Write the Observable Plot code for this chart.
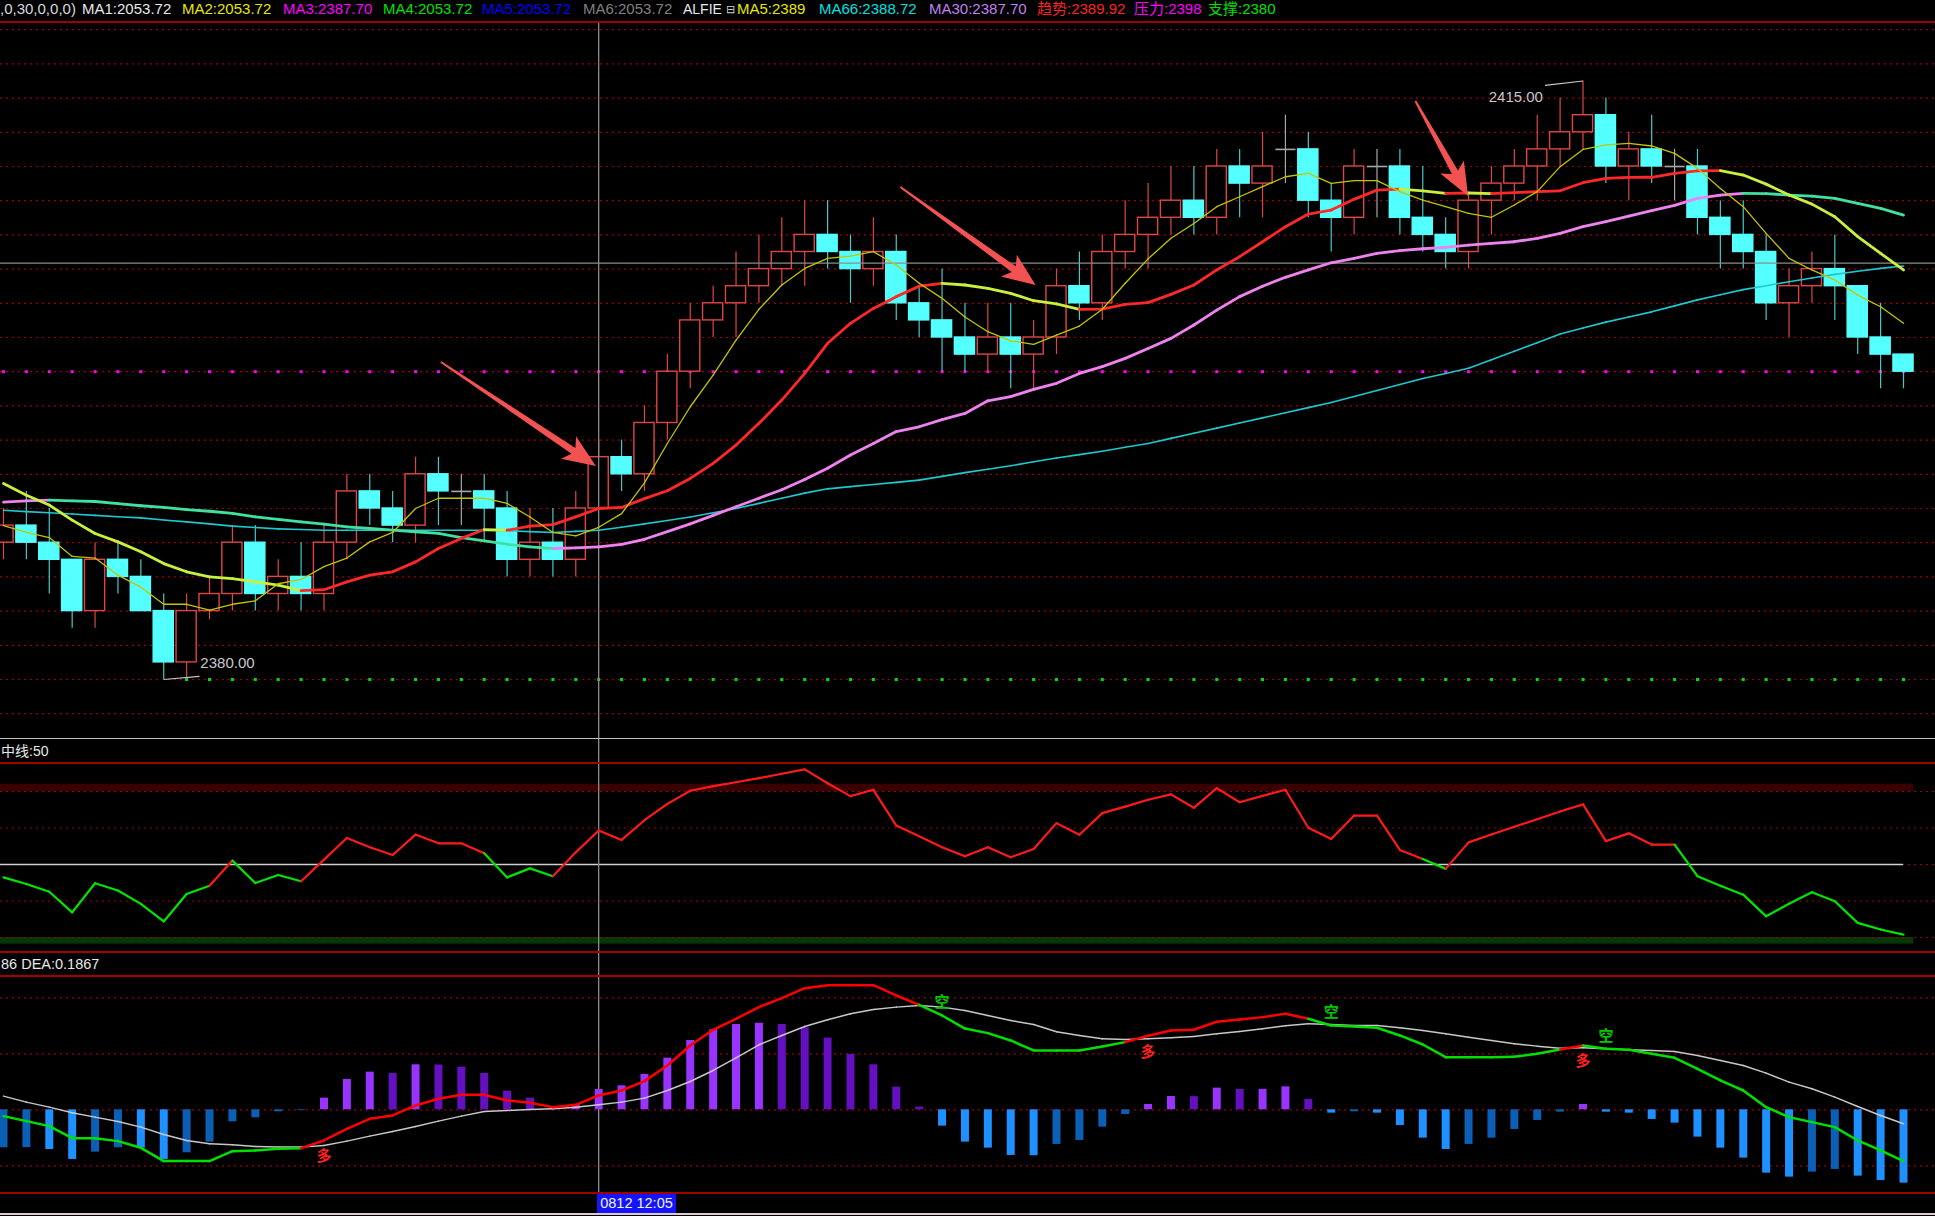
<!DOCTYPE html>
<html><head><meta charset="utf-8">
<script src="https://cdn.jsdelivr.net/npm/d3@7"></script>
<script src="https://cdn.jsdelivr.net/npm/@observablehq/plot@0.6"></script>
<style>
html,body{margin:0;padding:0;background:#000;}
#root{position:relative;width:1935px;height:1216px;overflow:hidden;background:#000;font-family:"Liberation Sans",Arial,"Noto Sans CJK SC",sans-serif;}
.abs{position:absolute;left:0;}
.hl{position:absolute;left:0;width:1935px;}
.tx{position:absolute;white-space:nowrap;font-size:15px;line-height:18px;}
svg{display:block;}
</style></head><body><div id="root"></div>
<script>
// ---------------- data ----------------
const opens = [2388,2389,2388,2387,2384,2387,2386,2384,2381,2384,
 2385,2388,2385,2386,2385,2388,2391,2390,2389,2392,
 2391,2391,2390,2387,2388,2387,2390,2393,2392,2395,
 2398,2401,2402,2403,2404,2405,2406,2405,2404,2405,
 2402,2401,2400,2399,2400,2399,2400,2403,2402,2405,
 2406,2407,2408,2407,2410,2409,2411,2411,2408,2407,
 2410,2410,2407,2406,2405,2408,2409,2410,2411,2412,
 2413,2410,2411,2410,2410,2407,2406,2405,2402,2403,
 2404,2403,2400,2399];
const closes = [2389,2388,2387,2384,2387,2386,2384,2381,2384,2385,
 2388,2385,2386,2385,2388,2391,2390,2389,2392,2391,
 2391,2390,2387,2388,2387,2390,2393,2392,2395,2398,
 2401,2402,2403,2404,2405,2406,2405,2404,2405,2402,
 2401,2400,2399,2400,2399,2400,2403,2402,2405,2406,
 2407,2408,2407,2410,2409,2410,2411,2408,2407,2410,
 2410,2407,2406,2405,2408,2409,2410,2411,2412,2413,
 2410,2411,2410,2410,2407,2406,2405,2402,2403,2404,
 2403,2400,2399,2398];
const highs = [2390,2391,2390,2387,2388,2388,2387,2385,2385,2386,
 2389,2389,2387,2388,2389,2392,2392,2391,2393,2393,
 2392,2392,2391,2390,2390,2391,2394,2394,2396,2399,
 2402,2403,2405,2406,2407,2408,2408,2406,2407,2406,
 2403,2404,2402,2402,2402,2401,2404,2405,2406,2408,
 2409,2410,2410,2411,2411,2412,2413,2412,2409,2411,
 2411,2411,2410,2407,2408.5,2410,2411,2413,2414,2415,
 2414,2412,2413,2411,2411,2408,2408,2406,2404,2405,
 2406,2403,2402,2399];
const lows = [2387,2387,2385,2383,2383,2385,2384,2380,2380,2383.5,
 2384,2384,2384,2384,2384,2387,2389,2388,2388,2389,
 2389,2388,2386,2386,2386,2386,2390,2391,2391,2394,
 2397,2400,2400,2402,2403,2403,2404,2402,2403,2401,
 2400,2398,2398,2398,2397,2397,2399,2401,2401,2404,
 2404,2406,2406,2406,2407,2407,2409,2407,2405,2406,
 2407,2406,2405,2404,2404,2406,2408,2408,2410,2411,
 2409,2408,2409,2408,2406,2404,2404,2401,2400,2402,
 2401,2399,2397,2397];
const ma5 = [2389.0,2388.6,2388.3,2387.2,2387.1,2386.1,2385.4,2384.4,2384.4,2384.05,
 2384.4,2384.6,2385.6,2385.85,2386.6,2387.1,2388.05,2388.6,2390.0,2390.6,
 2390.6,2390.6,2390.3,2389.5,2388.6,2388.4,2388.9,2389.7,2391.5,2393.8,
 2395.95,2397.8,2399.85,2401.65,2403.07,2404.04,2404.63,2404.76,2405.02,2404.24,
 2403.17,2402.29,2401.2,2400.34,2399.8,2399.6,2400.14,2400.67,2401.65,2403.17,
 2404.6,2405.8,2406.67,2407.65,2408.23,2408.82,2409.4,2409.6,2409.01,2409.17,
 2409.17,2408.53,2408.04,2407.65,2407.26,2407.03,2407.75,2408.53,2409.99,2411.0,
 2411.26,2411.35,2411.2,2410.77,2409.89,2408.72,2407.65,2406.09,2404.63,2403.95,
 2403.36,2402.48,2401.8,2400.83];
const trend = [2391.46,2390.78,2390.2,2389.32,2388.54,2388.05,2387.47,2386.78,2386.3,2386.0,
 2385.9,2385.71,2385.52,2385.2,2385.25,2385.71,2386.1,2386.3,2386.88,2387.66,
 2388.25,2388.77,2388.73,2388.97,2389.06,2389.51,2390.0,2390.06,2390.58,2391.04,
 2391.76,2392.64,2393.71,2394.98,2396.34,2397.9,2399.66,2400.83,2401.7,2402.39,
 2403.0,2403.17,2403.07,2402.87,2402.58,2402.15,2401.96,2401.64,2401.66,2401.94,
 2402.04,2402.52,2403.07,2403.95,2404.73,2405.6,2406.48,2407.22,2407.45,2408.08,
 2408.62,2408.68,2408.58,2408.43,2408.45,2408.41,2408.47,2408.53,2408.58,2409.05,
 2409.3,2409.36,2409.37,2409.6,2409.75,2409.76,2409.5,2408.97,2408.33,2407.8,
 2407.06,2405.9,2404.92,2403.95];
const ma30 = [2390.37,2390.45,2390.49,2390.45,2390.41,2390.29,2390.16,2390.06,2389.94,2389.84,
 2389.71,2389.51,2389.37,2389.22,2389.08,2388.93,2388.83,2388.73,2388.64,2388.54,
 2388.3,2388.11,2387.91,2387.76,2387.66,2387.7,2387.75,2387.9,2388.2,2388.65,
 2389.1,2389.6,2390.1,2390.6,2391.1,2391.7,2392.35,2393.13,2393.8,2394.5,
 2394.78,2395.2,2395.56,2396.3,2396.54,2396.97,2397.32,2397.9,2398.3,2398.78,
 2399.36,2399.95,2400.73,2401.6,2402.39,2403.0,2403.52,2403.95,2404.37,2404.63,
 2404.92,2405.08,2405.19,2405.27,2405.4,2405.5,2405.6,2405.8,2406.09,2406.48,
 2406.77,2407.1,2407.42,2407.73,2408.14,2408.33,2408.43,2408.41,2408.33,2408.27,
 2408.14,2407.84,2407.55,2407.16];
const ma66 = [2389.9,2389.82,2389.75,2389.68,2389.6,2389.52,2389.45,2389.33,2389.22,2389.1,
 2388.97,2388.89,2388.81,2388.77,2388.73,2388.73,2388.73,2388.73,2388.73,2388.73,
 2388.73,2388.72,2388.7,2388.65,2388.6,2388.66,2388.73,2388.9,2389.1,2389.3,
 2389.5,2389.75,2390.0,2390.3,2390.6,2390.9,2391.15,2391.28,2391.4,2391.53,
 2391.66,2391.88,2392.1,2392.3,2392.5,2392.73,2392.95,2393.15,2393.35,2393.58,
 2393.8,2394.1,2394.4,2394.7,2395.0,2395.3,2395.6,2395.9,2396.2,2396.55,
 2396.9,2397.25,2397.6,2397.9,2398.2,2398.7,2399.2,2399.7,2400.2,2400.55,
 2400.9,2401.2,2401.5,2401.85,2402.2,2402.5,2402.8,2403.03,2403.26,2403.48,
 2403.69,2403.87,2404.04,2404.18];
const rsi = [44.7,42.0,38.8,30.3,42.3,39.3,33.8,26.6,37.9,41.3,
 51.6,42.4,45.7,43.1,52.0,60.9,57.1,53.9,62.3,58.7,
 58.7,54.6,44.7,48.4,45.2,55.0,64.0,60.1,68.2,74.9,
 80.3,82.2,83.8,85.5,87.3,89.1,83.4,78.1,80.7,66.0,
 61.6,57.1,53.4,57.1,53.0,56.4,67.0,62.2,71.1,73.8,
 76.6,78.8,73.3,81.4,75.6,78.2,80.7,65.1,60.5,70.1,
 70.1,56.0,52.3,48.2,59.1,62.3,65.5,68.6,71.8,74.7,
 59.6,62.8,58.2,58.2,45.2,41.3,37.6,28.7,33.9,38.6,
 34.9,26.0,23.3,21.2];
// tone of each RSI segment (i -> i+1): r = red, g = green
const rsiTone = ("ggggggggg" + "r" + "ggg" + "rrrrrrrr" + "ggg" +
  "rrrrrrrrrrrrrrrrrrrrrrrrrrrrrrrrrrrrrr" + "g" + "rrrrrrrrrr" + "gggggggggg").split("");
const macdHist = [-1.357,-1.35,-1.417,-1.774,-1.512,-1.357,-1.37,-1.774,-1.536,-1.155,
 -0.429,-0.286,-0.071,-0.024,0.417,1.083,1.345,1.298,1.607,1.6,
 1.524,1.298,0.667,0.417,0.095,0.179,0.726,0.857,1.262,1.845,
 2.476,2.857,3.048,3.095,3.048,2.929,2.56,1.976,1.607,0.81,
 0.095,-0.583,-1.155,-1.369,-1.631,-1.64,-1.238,-1.095,-0.619,-0.167,
 0.19,0.476,0.47,0.774,0.726,0.73,0.821,0.369,-0.119,-0.071,
 -0.119,-0.56,-1.012,-1.417,-1.238,-1.012,-0.702,-0.381,-0.083,0.19,
 -0.083,-0.119,-0.345,-0.476,-0.976,-1.369,-1.726,-2.262,-2.405,-2.226,
 -2.131,-2.369,-2.524,-2.619];
const dif = [-0.226,-0.405,-0.583,-1.012,-1.012,-1.119,-1.357,-1.833,-1.833,-1.833,
 -1.476,-1.452,-1.393,-1.369,-1.095,-0.679,-0.321,-0.202,0.155,0.393,
 0.536,0.536,0.333,0.25,0.095,0.179,0.512,0.69,1.024,1.583,
 2.298,2.857,3.25,3.667,3.988,4.345,4.452,4.452,4.452,4.083,
 3.75,3.369,2.9,2.738,2.476,2.119,2.119,2.119,2.262,2.417,
 2.643,2.833,2.857,3.143,3.226,3.31,3.429,3.25,3.012,2.976,
 2.929,2.655,2.333,1.881,1.881,1.881,1.893,2.0,2.155,2.298,
 2.179,2.143,2.0,1.857,1.464,1.048,0.69,0.095,-0.262,-0.44,
 -0.619,-1.095,-1.452,-1.833];
const dea = [0.488,0.274,0.095,-0.107,-0.262,-0.417,-0.619,-0.881,-1.095,-1.214,
 -1.25,-1.31,-1.333,-1.333,-1.274,-1.119,-0.94,-0.774,-0.595,-0.405,
 -0.226,-0.06,-0.024,0.012,0.036,0.095,0.179,0.274,0.417,0.69,
 1.012,1.405,1.857,2.321,2.655,2.976,3.214,3.429,3.583,3.667,
 3.726,3.667,3.548,3.369,3.19,3.048,2.786,2.655,2.536,2.512,
 2.536,2.571,2.619,2.714,2.798,2.893,3.0,3.071,3.048,3.012,
 3.012,2.929,2.833,2.714,2.595,2.476,2.357,2.274,2.202,2.214,
 2.179,2.143,2.119,2.083,1.94,1.762,1.583,1.31,0.988,0.75,
 0.452,0.119,-0.202,-0.5];
const signals = [{i:14,t:"多"},{i:41,t:"空"},{i:50,t:"多"},{i:58,t:"空"},{i:69,t:"多"},{i:70,t:"空"}];
const priceGrid = [2378,2380,2382,2384,2386,2388,2390,2392,2394,2396,2398,2400,2402,2404,2406,2408,2410,2412,2414,2416,2418];
const pressure = 2398, support = 2380, supportFrom = 8;
const rsiLevels = [80,65,50,35,20], rsiMid = 50;
const rsiBands = [{lo:80,hi:83},{lo:17.3,hi:20}];
const macdGrid = [4,2,0,-2];
const cross = {i:26, price:2404.35, label:"0812 12:05"};
const highMark = {i:69, price:2415, label:"2415.00"};
const lowMark = {i:7, price:2380, label:"2380.00"};
const arrows = [
  {i0:19.13,p0:2398.54,i1:25.9,p1:2392.46},
  {i0:39.2,p0:2408.77,i1:45.11,p1:2403.04},
  {i0:61.7,p0:2413.8,i1:64.0,p1:2408.25}];
const legendLabels = [",0,30,0,0,0)","MA1:2053.72","MA2:2053.72","MA3:2387.70","MA4:2053.72","MA5:2053.72","MA6:2053.72","ALFIE","⊟","MA5:2389","MA66:2388.72","MA30:2387.70","趋势:2389.92","压力:2398","支撑:2380"];
const rsiTitle = "中线:50";
const macdTitle = "86 DEA:0.1867";

// ---------------- layout / style ----------------
const legendColors = ["#d8d8d8","#e8e8e8","#e6e600","#ff00ff","#00e000","#0000ff","#808080","#e8e8e8","#d0d0d0","#e6e600","#00e0e0","#c080f0","#ff2020","#ff00ff","#00e000"];
const legendLefts = [0,82,182,283,383,482,583,683,726,737,819,929,1037,1134,1208];
const legendSizes = [15,15,15,15,15,15,15,14,11,15,15,15,15,15,15];
const W = 1935, N = opens.length;
const XS = {domain:[0,83], range:[3,1903], axis:null};
const RED = "#e04545", CYAN = "#54ffff", CYANWICK = "#48c8c8", DOJI = "#a8a8a8";
const GRIDRED = "#a00000", CROSS = "#8c8c8c";
const HW = 0.44;
const root = document.getElementById("root");
function segs(arr){ return d3.range(arr.length-1).map(i=>({i, a:arr[i], b:arr[i+1]})); }
function place(node, top){ const d=document.createElement("div"); d.className="abs"; d.style.top=top+"px"; d.appendChild(node); root.appendChild(d); }
function hline(top, h, color){ const d=document.createElement("div"); d.className="hl"; d.style.top=top+"px"; d.style.height=h+"px"; d.style.background=color; root.appendChild(d); }
function text(str, left, top, color, size){ const d=document.createElement("div"); d.className="tx"; d.textContent=str; d.style.left=left+"px"; d.style.top=top+"px"; d.style.color=color; if(size) d.style.fontSize=size+"px"; root.appendChild(d); return d; }

const candles = d3.range(N).map(i=>({i, o:opens[i], h:highs[i], l:lows[i], c:closes[i]}));
const kind = d => d.c > d.o ? "up" : d.c < d.o ? "down" : "doji";
const linkOpts = {x1:"i", x2:d=>d.i+1, y1:"a", y2:"b", strokeLinecap:"round"};

function arrowMark(index, scales){
  const g = d3.create("svg:g");
  for (const a of arrows){
    const x0=scales.x(a.i0), y0=scales.y(a.p0), x1=scales.x(a.i1), y1=scales.y(a.p1);
    const dx=x1-x0, dy=y1-y0, L=Math.hypot(dx,dy), ux=dx/L, uy=dy/L, nx=-uy, ny=ux;
    const hl=33, hw=13.5, sw=3.5, tw=1, notch=6;
    const bx=x1-ux*hl, by=y1-uy*hl;
    const ix=bx+ux*notch, iy=by+uy*notch;
    const pts=[[x0+nx*tw,y0+ny*tw],[ix+nx*sw,iy+ny*sw],[bx+nx*hw,by+ny*hw],[x1,y1],[bx-nx*hw,by-ny*hw],[ix-nx*sw,iy-ny*sw],[x0-nx*tw,y0-ny*tw]];
    g.append("polygon").attr("points", pts.map(p=>p.join(",")).join(" ")).attr("fill","#f25252");
  }
  return g.node();
}

// ---------------- main price panel ----------------
const main = Plot.plot({
  width:W, height:716, margin:0,
  x:XS, y:{domain:[2380,2418], range:[657,7.2], axis:null},
  color:{type:"identity"},
  style:{background:"transparent", overflow:"visible"},
  marks:[
    Plot.ruleY(priceGrid, {stroke:GRIDRED, strokeDasharray:"2,4", strokeWidth:1.2}),
    Plot.dot(d3.range(N), {x:d=>d, y:()=>pressure, r:1.7, symbol:"square", fill:"#ff00ff"}),
    Plot.dot(d3.range(supportFrom, N), {x:d=>d, y:()=>support, r:1.7, symbol:"square", fill:"#00e000"}),
    Plot.ruleX(candles, {x:"i", y1:"l", y2:"h", strokeWidth:1.2,
      stroke:d=>kind(d)==="up"?RED:kind(d)==="down"?CYANWICK:DOJI}),
    Plot.rect(candles.filter(d=>kind(d)!=="doji"), {x1:d=>d.i-HW, x2:d=>d.i+HW, y1:"o", y2:"c",
      fill:d=>kind(d)==="up"?"#000000":CYAN, stroke:d=>kind(d)==="up"?RED:CYAN, strokeWidth:1.4}),
    Plot.link(candles.filter(d=>kind(d)==="doji"), {x1:d=>d.i-HW, x2:d=>d.i+HW, y1:"o", y2:"o", stroke:DOJI, strokeWidth:1.6}),
    Plot.ruleY([cross.price], {stroke:CROSS, strokeWidth:1.3}),
    Plot.ruleX([cross.i], {stroke:CROSS, strokeWidth:1.3}),
    Plot.link(segs(ma66), {...linkOpts, stroke:"#1ec8d0", strokeWidth:1.6}),
    Plot.link(segs(ma30), {...linkOpts, stroke:d=>d.b>=d.a?"#ee82ee":"#40e0a0", strokeWidth:2.8}),
    Plot.link(segs(trend), {...linkOpts, stroke:d=>d.b>=d.a?"#ff2828":"#c8f03c", strokeWidth:2.8}),
    Plot.link(segs(ma5), {...linkOpts, stroke:"#c4c400", strokeWidth:1.3}),
    Plot.link([highMark], {x1:"i", y1:"price", x2:d=>d.i-1.66, y2:d=>d.price-0.26, stroke:"#c8c8c8", strokeWidth:1.2}),
    Plot.text([highMark], {x:d=>d.i-1.75, y:d=>d.price-0.96, text:"label", textAnchor:"end", fill:"#c8c8c8", fontSize:15, fontFamily:"Liberation Sans"}),
    Plot.link([lowMark], {x1:"i", y1:"price", x2:d=>d.i+1.56, y2:d=>d.price+0.18, stroke:"#c8c8c8", strokeWidth:1.2}),
    Plot.text([lowMark], {x:d=>d.i+1.6, y:d=>d.price+0.96, text:"label", textAnchor:"start", fill:"#c8c8c8", fontSize:15, fontFamily:"Liberation Sans"}),
    arrowMark
  ]
});
place(main, 22);

// ---------------- RSI panel ----------------
const rsiPlot = Plot.plot({
  width:W, height:214, margin:0,
  x:XS, y:{domain:[20,80], range:[199,53], axis:null},
  color:{type:"identity"},
  style:{background:"transparent", overflow:"visible"},
  marks:[
    Plot.rect(rsiBands, {x1:()=>-1, x2:()=>83.45, y1:"lo", y2:"hi", fill:(d,i)=>i===0?"#3a0000":"#053805"}),
    Plot.ruleY(rsiLevels, {stroke:GRIDRED, strokeDasharray:"2,4", strokeWidth:1.2}),
    Plot.ruleY([rsiMid], {x1:()=>-1, x2:()=>83, stroke:"#d0d0d0", strokeWidth:1.6}),
    Plot.ruleX([cross.i], {stroke:CROSS, strokeWidth:1.3}),
    Plot.link(segs(rsi), {...linkOpts, stroke:d=>rsiTone[d.i]==="r"?"#ff1a1a":"#00e600", strokeWidth:2.2})
  ]
});
place(rsiPlot, 738);

// ---------------- MACD panel ----------------
const hist = macdHist.map((v,i)=>({i, v, prev:i>0?macdHist[i-1]:v}));
const histColor = d => d.v>=0 ? (d.v>d.prev?"#9933ff":"#6410c0") : (d.v<d.prev?"#1e90ff":"#0b5fb5");
const macdPlot = Plot.plot({
  width:W, height:241, margin:0,
  x:XS, y:{domain:[-2,4], range:[213.3,45.3], axis:null},
  color:{type:"identity"},
  style:{background:"transparent", overflow:"visible"},
  marks:[
    Plot.ruleY(macdGrid, {stroke:GRIDRED, strokeDasharray:"2,4", strokeWidth:1.2}),
    Plot.ruleX([cross.i], {stroke:CROSS, strokeWidth:1.3}),
    Plot.ruleX(hist, {x:"i", y1:()=>0, y2:"v", stroke:histColor, strokeWidth:8}),
    Plot.link(segs(dea), {...linkOpts, stroke:"#c8c8c8", strokeWidth:1.5}),
    Plot.link(segs(dif), {...linkOpts, stroke:d=>dif[d.i+1]>dea[d.i+1]?"#ff0000":"#00e000", strokeWidth:2.5}),
    Plot.text(signals.filter(s=>s.t==="多"), {x:"i", y:d=>dif[d.i], text:"t", dy:16, fill:"#ff2020", fontSize:15, fontWeight:"bold", fontFamily:"Noto Sans CJK SC"}),
    Plot.text(signals.filter(s=>s.t==="空"), {x:"i", y:d=>dif[d.i], text:"t", dy:-13, fill:"#00c800", fontSize:15, fontWeight:"bold", fontFamily:"Noto Sans CJK SC"})
  ]
});
place(macdPlot, 952);

// ---------------- frame lines & texts ----------------
hline(21, 2, "#a00000");
hline(737.5, 1.5, "#c0c0c0");
hline(761.5, 2, "#a00000");
hline(951, 2, "#a00000");
hline(975, 2, "#a00000");
hline(1191.5, 2, "#a00000");
hline(1212.5, 2, "#e0cccc");

legendLabels.forEach((s,k)=>text(s, legendLefts[k], 0, legendColors[k], legendSizes[k]));
text(rsiTitle, 1, 742, "#e8e8e8", 14);
text(macdTitle, 1, 955, "#e8e8e8", 14.5);
const dl = text(cross.label, 597, 1194, "#f4f4c8", 14.5);
dl.style.background = "#1414ff"; dl.style.width = "79px"; dl.style.height = "19px"; dl.style.lineHeight = "19px"; dl.style.textAlign = "center";
</script></body></html>
